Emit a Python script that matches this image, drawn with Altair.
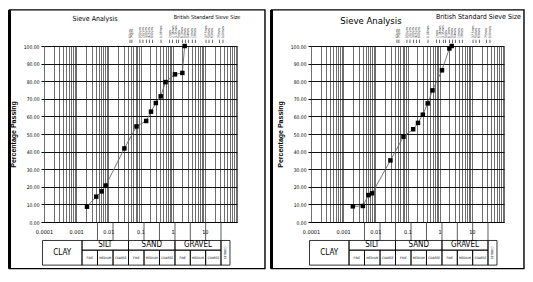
import altair as alt
import pandas as pd

# ---------------- data ----------------
left_size = [0.00217, 0.0042, 0.0062, 0.0083, 0.0315, 0.075, 0.15, 0.212, 0.3, 0.425, 0.6, 1.18, 2.0, 2.36]
left_pass = [8.7, 14.4, 17.4, 20.7, 41.8, 54.3, 57.4, 62.7, 67.6, 71.4, 79.5, 83.9, 84.7, 100.0]
right_size = [0.0020, 0.0041, 0.0061, 0.0079, 0.0295, 0.075, 0.15, 0.212, 0.3, 0.425, 0.6, 1.18, 2.0, 2.36]
right_pass = [8.9, 9.1, 15.3, 16.3, 35.0, 48.5, 52.7, 56.3, 61.0, 67.4, 74.8, 86.2, 98.6, 100.0]

x_grid = [m * 10.0 ** e for e in range(-4, 2) for m in range(1, 10)] + [100.0]
y_ticks = [0, 10, 20, 30, 40, 50, 60, 70, 80, 90, 100]

sieve_pos = [0.047, 0.054, 0.096, 0.119, 0.153, 0.19, 0.236, 0.434, 0.80, 0.99, 1.31,
             1.52, 2.02, 2.5, 3.1, 4.1, 5.1, 10.9, 13.5, 17.3, 28.5, 36.6]
sieve_lab = ["63µm", "75µm", "150µm", "212µm", "300µm", "425µm", "600µm", "1.18mm", "2mm",
             "2.36mm", "3.35mm", "5mm", "6.3mm", "10mm", "14mm", "20mm", "28mm", "37.5mm",
             "50mm", "63mm", "75mm", "100mm"]

soil_edges = [9.0e-5, 1.52e-3, 4.24e-2, 1.18, 31.8, 60.5]
soil_names = ["CLAY", "SILT", "SAND", "GRAVEL", "COBBLES"]
sub_edges = [1.52e-3, 4.6e-3, 1.4e-2, 4.24e-2, 0.1285, 0.389, 1.18, 3.54, 10.6, 31.8]
sub_names = ["FINE", "MEDIUM", "COARSE"] * 3
table_top, table_mid, table_bot = -10.5, -16.0, -24.5

FN = "DejaVu Sans Condensed, Liberation Sans Narrow, sans-serif"
FS = "Liberation Sans, Arial, DejaVu Sans, sans-serif"
W, H = 193, 176

XS = alt.Scale(type="log", domain=[1e-4, 100], nice=False)
YS = alt.Scale(domain=[0, 100], nice=False, zero=False)

XAX = alt.Axis(values=x_grid, grid=True, gridColor="#5e5e5e", gridWidth=0.9,
               labelExpr="abs(log(datum.value)/LN10 - round(log(datum.value)/LN10)) < 0.001 && datum.value < 50 ? format(datum.value, '~g') : ''",
               labelFont=FN, labelFontSize=5.5, labelColor="black", labelPadding=7,
               ticks=False, tickSize=0, domain=True, domainColor="black", domainWidth=1,
               title=None, labelOverlap=False, labelFlush=False)
YAX = alt.Axis(values=y_ticks, format=".2f", grid=True, gridColor="#111111", gridWidth=1,
               tickSize=3, tickColor="black", labelFontSize=5, labelFont=FN,
               labelColor="black", labelPadding=2, domain=False,
               title="Percentage Passing", titleFont=FS, titleFontWeight="bold",
               titleFontSize=7, titlePadding=7, titleColor="black")


def gmean(a, b):
    return (a * b) ** 0.5


def xq(f):
    return alt.X(f"{f}:Q", scale=XS, axis=XAX)


def yq(f):
    return alt.Y(f"{f}:Q", scale=YS, axis=YAX)


def panel(sizes, passing, frame_l, frame_r, t1x, t1y, t1size, t2x, t2size):
    pts = pd.DataFrame({"size": sizes, "pass": passing})
    line = alt.Chart(pts).mark_line(color="#6b6b6b", strokeWidth=0.9, clip=False).encode(
        x=xq("size"), y=yq("pass"))
    pts_m = alt.Chart(pts).mark_square(size=20, color="black", opacity=1, clip=False).encode(
        x=xq("size"), y=yq("pass"))

    frame = pd.DataFrame({"x": [frame_l], "x2": [frame_r], "y": [-26.5], "y2": [120.5]})
    frame_m = alt.Chart(frame).mark_rect(fillOpacity=0, stroke="black", strokeWidth=1.4,
                                         clip=False).encode(
        x=xq("x"), x2="x2:Q", y=yq("y"), y2="y2:Q")
    frame_left = alt.Chart(frame).mark_rule(color="black", strokeWidth=3, clip=False).encode(
        x=xq("x"), y=yq("y"), y2="y2:Q")

    rows = []
    rows.append(dict(x=soil_edges[0], x2=soil_edges[1], y=table_bot, y2=table_top))
    for i in range(1, 4):
        rows.append(dict(x=soil_edges[i], x2=soil_edges[i + 1], y=table_mid, y2=table_top))
    for i in range(9):
        rows.append(dict(x=sub_edges[i], x2=sub_edges[i + 1], y=table_bot, y2=table_mid))
    rows.append(dict(x=soil_edges[4], x2=soil_edges[5], y=table_bot, y2=table_top))
    cells = alt.Chart(pd.DataFrame(rows)).mark_rect(fillOpacity=0, stroke="black",
                                                    strokeWidth=0.8, clip=False).encode(
        x=xq("x"), x2="x2:Q", y=yq("y"), y2="y2:Q")

    conn = pd.DataFrame({"x": sub_edges[1:-1] + [soil_edges[4]], "y": 0.0, "y2": table_top})
    conn_m = alt.Chart(conn).mark_rule(color="#333", strokeWidth=0.8, clip=False).encode(
        x=xq("x"), y=yq("y"), y2="y2:Q")

    big = pd.DataFrame({
        "x": [gmean(soil_edges[0], soil_edges[1])] + [gmean(soil_edges[i], soil_edges[i + 1]) for i in range(1, 4)],
        "y": [(table_top + table_bot) / 2] + [(table_top + table_mid) / 2] * 3,
        "t": soil_names[:4]})
    big_m = alt.Chart(big).mark_text(font=FN, fontSize=8, color="black", baseline="middle",
                                     clip=False).encode(x=xq("x"), y=yq("y"), text="t:N")
    small = pd.DataFrame({"x": [gmean(sub_edges[i], sub_edges[i + 1]) for i in range(9)],
                          "y": (table_mid + table_bot) / 2, "t": sub_names})
    small_m = alt.Chart(small).mark_text(font=FN, fontSize=3.2, color="black", baseline="middle",
                                         clip=False).encode(x=xq("x"), y=yq("y"), text="t:N")
    cob = pd.DataFrame({"x": [gmean(soil_edges[4], soil_edges[5])],
                        "y": [(table_top + table_bot) / 2], "t": [soil_names[4]]})
    cob_m = alt.Chart(cob).mark_text(font=FN, fontSize=3.0, color="black", angle=90,
                                     baseline="middle", clip=False).encode(
        x=xq("x"), y=yq("y"), text="t:N")

    sv = pd.DataFrame({"x": sieve_pos, "t": sieve_lab, "y": 101.7, "y2": 103.6, "yl": 104.6})
    sv_tick = alt.Chart(sv).mark_rule(color="#444", strokeWidth=0.8, clip=False).encode(
        x=xq("x"), y=yq("y"), y2="y2:Q")
    sv_lab = alt.Chart(sv).mark_text(font=FN, fontSize=3.3, color="#333", angle=270,
                                     align="left", baseline="middle", clip=False).encode(
        x=xq("x"), y=yq("yl"), text="t:N")

    titles = pd.DataFrame({"x": [t1x], "y": [t1y], "t": ["Sieve Analysis"]})
    t1 = alt.Chart(titles).mark_text(font=FN, fontSize=t1size, color="black",
                                     baseline="middle", clip=False).encode(
        x=xq("x"), y=yq("y"), text="t:N")
    titles2 = pd.DataFrame({"x": [t2x], "y": [116.5], "t": ["British Standard Sieve Size"]})
    t2 = alt.Chart(titles2).mark_text(font=FN, fontSize=t2size, color="black",
                                      baseline="middle", clip=False).encode(
        x=xq("x"), y=yq("y"), text="t:N")

    return alt.layer(frame_m, frame_left, cells, conn_m, big_m, small_m, cob_m,
                     sv_tick, sv_lab, t1, t2, line, pts_m).properties(width=W, height=H)


left = panel(left_size, left_pass, 8.47e-6, 741.0, 3.85e-3, 115.3, 7.0, 11.7, 5.5)
right = panel(right_size, right_pass, 5.92e-6, 418.0, 7.33e-3, 114.2, 9.5, 16.0, 7.0)

chart = alt.hconcat(left, right, spacing=4).properties(padding=0).configure_view(stroke=None)
chart.save("out.html", embed_options={"renderer": "svg", "actions": False})
